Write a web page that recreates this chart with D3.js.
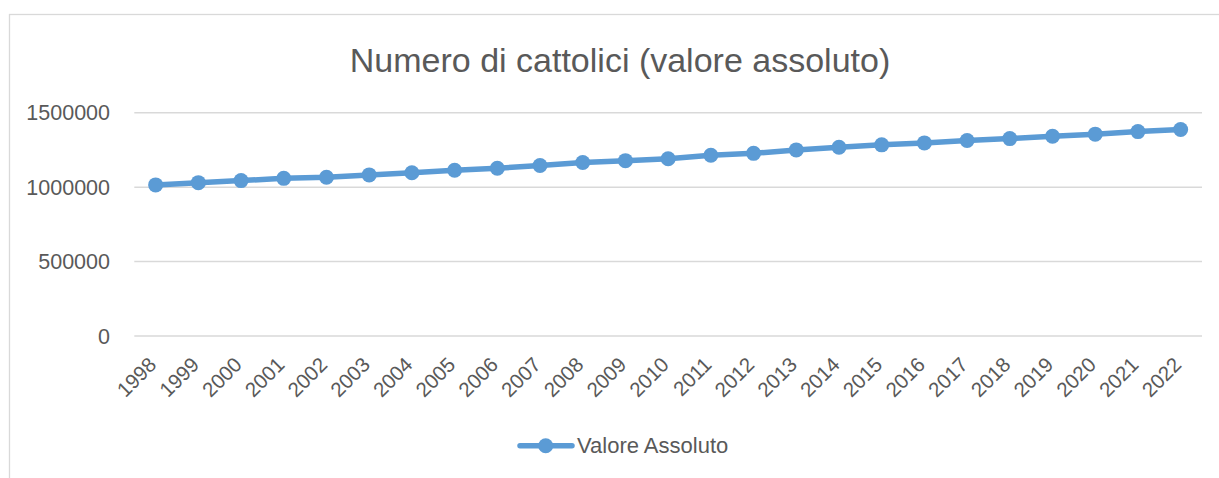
<!DOCTYPE html>
<html>
<head>
<meta charset="utf-8">
<script src="https://cdn.jsdelivr.net/npm/d3@7"></script>
<style>
  body { margin: 0; background: #fff; }
  text { font-family: "Liberation Sans", Arial, sans-serif; fill: #595959; }
</style>
</head>
<body>
<div id="chart"></div>
<script>
const years = ["1998","1999","2000","2001","2002","2003","2004","2005","2006","2007","2008","2009",
  "2010","2011","2012","2013","2014","2015","2016","2017","2018","2019","2020","2021","2022"]
const values = [1015000,1030000,1044000,1059000,1066000,1082000,1097000,1113000,1127000,1145000,1165000,1178000,
  1191000,1214000,1227000,1250000,1268000,1284000,1297000,1313000,1326000,1342000,1356000,1373000,1387000]
const yTicks = [0, 500000, 1000000, 1500000]
const title = "Numero di cattolici (valore assoluto)"
const seriesName = "Valore Assoluto"

const width = 1219
const height = 478
const color = "#5B9BD5"

const svg = d3.select("#chart").append("svg")
  .attr("width", width)
  .attr("height", height)

// chart frame (clipped at right/bottom like the reference)
svg.append("rect")
  .attr("x", 9.5).attr("y", 14.5)
  .attr("width", 1240).attr("height", 500)
  .attr("fill", "none")
  .attr("stroke", "#d9d9d9")
  .attr("stroke-width", 1.3)

const xScale = d3.scaleBand().domain(years).range([134.3, 1202])
const yScale = d3.scaleLinear().domain([0, 1500000]).range([336, 112.7])

// gridlines
svg.append("g")
  .selectAll("line")
  .data(yTicks)
  .join("line")
  .attr("x1", 134.3).attr("x2", 1202)
  .attr("y1", d => yScale(d)).attr("y2", d => yScale(d))
  .attr("stroke", "#d9d9d9")
  .attr("stroke-width", 1.5)

// y labels
svg.append("g")
  .selectAll("text")
  .data(yTicks)
  .join("text")
  .attr("x", 110)
  .attr("y", d => yScale(d))
  .attr("dy", "0.35em")
  .attr("text-anchor", "end")
  .style("font-size", "21.5px")
  .text(d => d)

// x labels, rotated
svg.append("g")
  .selectAll("text")
  .data(years)
  .join("text")
  .attr("text-anchor", "end")
  .attr("transform", d => "translate(" + (xScale(d) + xScale.bandwidth() / 2 + 2) + "," + 366 + ") rotate(-45)")
  .style("font-size", "20.5px")
  .text(d => d)

const cx = (d, i) => xScale(years[i]) + xScale.bandwidth() / 2

const line = d3.line()
  .x((d, i) => cx(d, i))
  .y(d => yScale(d))

svg.append("path")
  .datum(values)
  .attr("d", line)
  .attr("fill", "none")
  .attr("stroke", color)
  .attr("stroke-width", 5.5)
  .attr("stroke-linejoin", "round")
  .attr("stroke-linecap", "round")

svg.append("g")
  .selectAll("circle")
  .data(values)
  .join("circle")
  .attr("cx", cx)
  .attr("cy", d => yScale(d))
  .attr("r", 7.5)
  .attr("fill", color)

// title
svg.append("text")
  .attr("x", 620)
  .attr("y", 72)
  .attr("text-anchor", "middle")
  .style("font-size", "34px")
  .text(title)

// legend
const lg = svg.append("g")
lg.append("line")
  .attr("x1", 520).attr("x2", 572)
  .attr("y1", 445.7).attr("y2", 445.7)
  .attr("stroke", color)
  .attr("stroke-width", 5.5)
  .attr("stroke-linecap", "round")
lg.append("circle")
  .attr("cx", 545.7).attr("cy", 445.7).attr("r", 7.5)
  .attr("fill", color)
lg.append("text")
  .attr("x", 577).attr("y", 445.7)
  .attr("dy", "0.35em")
  .style("font-size", "22px")
  .text(seriesName)
</script>
</body>
</html>
